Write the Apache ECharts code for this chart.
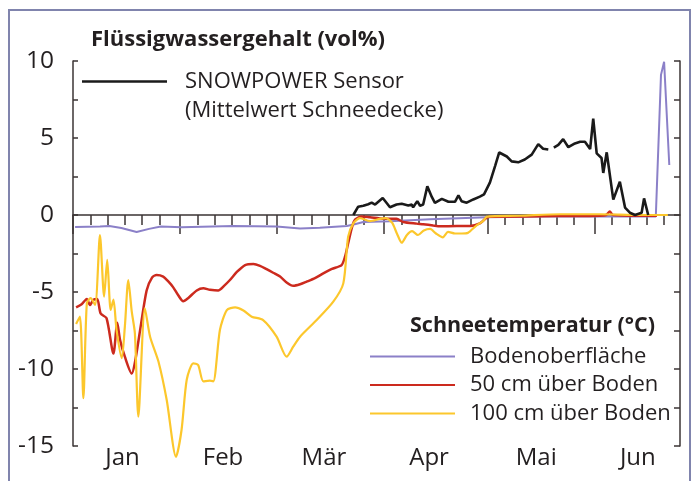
<!DOCTYPE html>
<html>
<head>
<meta charset="utf-8">
<script src="https://cdn.jsdelivr.net/npm/echarts@6/dist/echarts.min.js"></script>
<style>
html, body { margin: 0; padding: 0; background: #fff; }
#chart { width: 693px; height: 481px; }
</style>
</head>
<body>
<div id="chart"></div>
<script>
// x = Tage seit 1. Januar
const monthStarts = [0, 31, 59, 90, 120, 151];
const monthNames = ['Jan', 'Feb', 'Mär', 'Apr', 'Mai', 'Jun'];
const monthLabelPos = [14.3, 43.4, 72.6, 103, 134, 163.4];
const yLabelValues = [-15, -10, -5, 0, 5, 10];

// Flüssigwassergehalt (vol%)
const sensorData = [
    [81.1, 0], [82.5, 0.54], [84.0, 0.6], [85.4, 0.7], [86.4, 0.8], [87.4, 0.68], [89.6, 1.1],
    [91.7, 0.5], [93.6, 0.68], [95.1, 0.73], [97.0, 0.62], [98.0, 0.68], [98.4, 0.5], [99.6, 0.9],
    [100.4, 0.6], [101.3, 0.68], [102.5, 1.86], [103.8, 1.17], [104.7, 0.79], [106.7, 1.05],
    [108.6, 0.86], [110.5, 0.86], [111.5, 1.27], [112.4, 0.9], [113.9, 0.8], [115.8, 1.01],
    [117.7, 1.19], [118.9, 1.34], [120.6, 2.1], [122.1, 3.18], [123.3, 4.06], [125.5, 3.8],
    [126.9, 3.48], [128.8, 3.42], [130.7, 3.6], [132.7, 3.92], [134.6, 4.6], [136.0, 4.3],
    [137.5, 4.25], [138.3, '-'], [139.1, 4.37], [140.4, 4.55], [141.8, 4.93], [143.3, 4.4],
    [145.2, 4.65], [146.7, 4.76], [148.1, 4.76], [149.6, 4.28], [150.5, 6.25], [151.5, 4.0],
    [152.9, 3.7], [153.4, 2.73], [154.4, 4.07], [156.3, 1.0], [158.2, 2.16], [159.7, 0.48],
    [161.1, 0.15], [162.6, 0], [164.5, 0.15], [165.2, 1.08], [166.4, 0]
];

// Schneetemperatur (°C)
const bodenData = [
    [0.6, -0.78], [7.8, -0.75], [10.5, -0.72], [14, -0.85], [18.4, -1.1], [22, -0.9], [25.4, -0.75],
    [31.4, -0.8], [46.3, -0.72], [58.9, -0.75], [65.7, -0.88], [71.4, -0.83], [79.2, -0.72],
    [81.5, -0.6], [84, -0.45], [91.7, -0.4], [103.3, -0.28], [119.8, -0.15], [135.1, -0.1],
    [154.4, -0.08], [168.6, -0.1], [170.1, 9.1], [171.0, 9.95], [172.5, 3.25]
];

const cm50Data = [
    [0.9, -6.0], [2.5, -5.8], [4.0, -5.45], [4.9, -5.85], [5.9, -5.5], [7.0, -5.45], [8.0, -6.4],
    [9.7, -6.7], [11.7, -9.0], [12.8, -7.0], [13.6, -8.1], [15.0, -9.2], [17.0, -10.3], [17.9, -9.6],
    [19.4, -7.5], [21.3, -4.9], [22.9, -4.05], [24.2, -3.9], [26.1, -4.0], [27.5, -4.3], [29.0, -4.7],
    [30.4, -5.2], [31.9, -5.6], [33.3, -5.4], [35.8, -4.9], [37.7, -4.76], [39.6, -4.85], [42.0, -4.9],
    [43.7, -4.6], [45.4, -4.22], [47.4, -3.7], [49.8, -3.25], [52.2, -3.18], [54.1, -3.3], [56.0, -3.52],
    [57.9, -3.75], [59.9, -4.0], [61.9, -4.4], [63.7, -4.6], [65.7, -4.5], [67.6, -4.33], [70.0, -4.1],
    [72.4, -3.79], [74.9, -3.5], [77.7, -3.25], [78.7, -2.7], [79.6, -1.84], [80.7, -0.8], [81.6, -0.3],
    [83.5, -0.1], [85.9, -0.15], [89.8, -0.24], [93.6, -0.25], [95.5, -0.45], [99.4, -0.56],
    [101.3, -0.6], [104.2, -0.68], [106.2, -0.73], [111.0, -0.72], [114.8, -0.72], [117.7, -0.55],
    [119.7, -0.17], [120.6, -0.12], [139.9, -0.07], [152.4, -0.05], [154.2, 0.0], [155.3, 0.22],
    [156.2, 0.0], [164, -0.05], [168.9, -0.05]
];

const cm100Data = [
    [0.9, -7.08], [2.0, -6.6], [3.0, -11.9], [4.0, -5.73], [5.1, -5.4], [6.4, -5.84], [7.8, -1.3],
    [9.0, -5.3], [9.9, -2.92], [10.9, -6.17], [11.7, -5.5], [12.6, -7.46], [14.1, -9.3], [15.0, -7.25],
    [16.0, -4.22], [17.0, -6.28], [17.9, -7.68], [18.9, -13.1], [20.8, -6.06], [22.3, -7.9],
    [24.7, -9.5], [27.1, -12.0], [29.8, -15.7], [31.4, -13.96], [32.9, -10.7], [34.8, -9.63],
    [36.2, -9.74], [37.7, -10.8], [39.6, -10.76], [40.6, -10.8], [42.5, -7.47], [44.5, -6.17],
    [46.9, -6.0], [49.3, -6.2], [51.7, -6.6], [55.0, -6.82], [58.9, -7.9], [61.8, -9.2], [63.7, -8.55],
    [65.7, -7.9], [70.5, -6.82], [75.3, -5.63], [78.2, -4.44], [79.6, -1.4], [81.1, -0.54], [83.0, -0.2],
    [85.9, -0.4], [88.8, -0.25], [90.5, -0.2], [92.3, -0.5], [93.7, -1.2], [95.1, -1.8], [96.6, -1.3],
    [98.1, -1.05], [99.8, -1.3], [101.5, -1.0], [103.3, -0.9], [105.0, -1.2], [107.0, -1.45],
    [108.5, -1.1], [110.5, -1.2], [112.5, -1.2], [114.3, -1.15], [116.6, -0.7], [118.6, -0.4],
    [119.8, -0.1], [129.3, -0.05], [140.9, 0.05], [152.4, 0.05], [164, 0.0], [172.1, 0.0]
];

const X_MAX = 175.6;
const FONT = '"Open Sans", sans-serif';
const AXIS_COLOR = '#3b3434';
const TEXT_COLOR = '#231f20';

// kleine Striche alle 5 Tage, lange am Monatsanfang
let minorTicks = [];
monthStarts.forEach(m => {
    for (let d = 5; d <= 25; d += 5) {
        if (m + d <= X_MAX) minorTicks.push(m + d);
    }
});

let chart = echarts.init(document.getElementById('chart'));

let axisLineStyle = {color: AXIS_COLOR, width: 1.5};

let options = {
    animation: false,
    backgroundColor: '#fff',
    title: [{
        text: 'Flüssigwassergehalt (vol%)',
        left: 91, top: 29, padding: 0,
        textStyle: {fontFamily: FONT, fontSize: 22, fontWeight: 'bold', color: TEXT_COLOR}
    }, {
        text: 'Schneetemperatur (°C)',
        left: 410, top: 315, padding: 0,
        textStyle: {fontFamily: FONT, fontSize: 21.5, fontWeight: 'bold', color: TEXT_COLOR}
    }],
    legend: [{
        data: ['SNOWPOWER Sensor'],
        left: 82, top: 38,
        padding: 0,
        icon: 'rect',
        itemWidth: 85, itemHeight: 2.5,
        selectedMode: false,
        // leere erste Zeile, damit der Strich auf Höhe der ersten Textzeile sitzt
        formatter: () => '\nSNOWPOWER Sensor\n(Mittelwert Schneedecke)',
        textStyle: {fontFamily: FONT, fontSize: 22, lineHeight: 29, color: TEXT_COLOR, padding: [0, 0, 0, 13]}
    }, {
        data: ['Bodenoberfläche', '50 cm über Boden', '100 cm über Boden'],
        orient: 'vertical',
        left: 370, top: 342.5,
        padding: 0,
        icon: 'rect',
        itemWidth: 85, itemHeight: 2,
        itemGap: 0.5,
        selectedMode: false,
        textStyle: {fontFamily: FONT, fontSize: 22, lineHeight: 28, color: TEXT_COLOR, padding: [0, 0, 0, 10]}
    }],
    grid: {left: 73, right: 13, top: 61, bottom: 35},
    xAxis: [{
        // Monatsnamen unten
        type: 'value', min: 0, max: X_MAX, position: 'bottom',
        axisLine: {show: false, onZero: false},
        axisTick: {show: false},
        splitLine: {show: false},
        axisLabel: {
            customValues: monthLabelPos,
            formatter: v => monthNames[monthLabelPos.indexOf(v)],
            fontFamily: FONT, fontSize: 24, color: TEXT_COLOR, margin: 0
        }
    }, {
        // Nulllinie mit kurzen Strichen
        type: 'value', min: 0, max: X_MAX, position: 'bottom',
        axisLine: {show: true, onZero: true, onZeroAxisIndex: 0, lineStyle: axisLineStyle},
        axisTick: {show: true, customValues: minorTicks, length: 10, lineStyle: axisLineStyle},
        axisLabel: {show: false},
        splitLine: {show: false}
    }, {
        // lange Striche am Monatsanfang
        type: 'value', min: 0, max: X_MAX, position: 'top',
        axisLine: {show: false, onZero: true, onZeroAxisIndex: 0},
        axisTick: {show: true, inside: true, customValues: monthStarts, length: 19, lineStyle: axisLineStyle},
        axisLabel: {show: false},
        splitLine: {show: false}
    }],
    yAxis: [{
        type: 'value', min: -15, max: 10, interval: 2.5, position: 'left',
        axisLine: {show: true, onZero: false, lineStyle: axisLineStyle},
        axisTick: {show: true, inside: true, length: 5, lineStyle: axisLineStyle},
        axisLabel: {customValues: yLabelValues, fontFamily: FONT, fontSize: 24.5, color: TEXT_COLOR, margin: 19},
        splitLine: {show: false}
    }, {
        type: 'value', min: -15, max: 10, interval: 2.5, position: 'right',
        axisLine: {show: true, onZero: false, lineStyle: axisLineStyle},
        axisTick: {show: true, inside: true, length: 6, lineStyle: axisLineStyle},
        axisLabel: {show: false},
        splitLine: {show: false}
    }],
    graphic: [{
        type: 'rect',
        shape: {x: 9, y: 10, width: 681, height: 490},
        style: {fill: null, stroke: '#8084ad', lineWidth: 2},
        silent: true
    }],
    series: [{
        name: 'Bodenoberfläche', type: 'line', xAxisIndex: 1, yAxisIndex: 0,
        data: bodenData, showSymbol: false, symbol: 'none',
        color: '#8b80c8', lineStyle: {width: 2}
    }, {
        name: '50 cm über Boden', type: 'line', xAxisIndex: 1, yAxisIndex: 0,
        data: cm50Data, showSymbol: false, symbol: 'none', smooth: 0.25,
        color: '#cc2a1e', lineStyle: {width: 2.5}
    }, {
        name: '100 cm über Boden', type: 'line', xAxisIndex: 1, yAxisIndex: 0,
        data: cm100Data, showSymbol: false, symbol: 'none', clip: false, smooth: 0.25,
        color: '#fcc72c', lineStyle: {width: 2.2}
    }, {
        name: 'SNOWPOWER Sensor', type: 'line', xAxisIndex: 1, yAxisIndex: 0,
        data: sensorData, showSymbol: false, symbol: 'none', connectNulls: false,
        color: '#1a1a1a', lineStyle: {width: 2.6}
    }]
};
chart.setOption(options);
</script>
</body>
</html>
